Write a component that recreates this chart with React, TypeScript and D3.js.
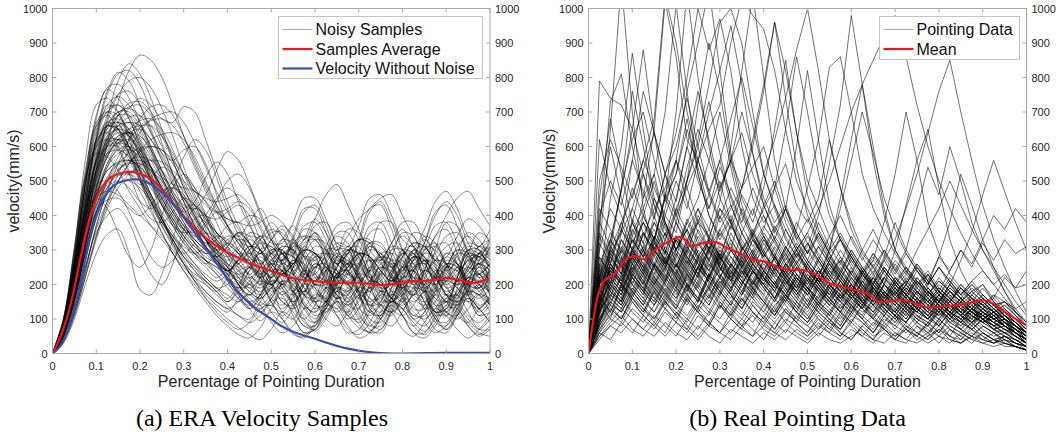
import React from "react";
import * as d3 from "d3";

// ---------- shared sample grid (fraction of pointing duration) ----------
const sampleX = [
  0, 0.025, 0.05, 0.075, 0.1, 0.125, 0.15, 0.175, 0.2, 0.225, 0.25, 0.275, 0.3, 0.325, 0.35, 0.375, 0.4, 0.425, 0.45, 0.475,
  0.5, 0.525, 0.55, 0.575, 0.6, 0.625, 0.65, 0.675, 0.7, 0.725, 0.75, 0.775, 0.8, 0.825, 0.85, 0.875, 0.9, 0.925, 0.95, 0.975, 1,
];

// ---------- (a) ERA velocity samples ----------
const eraNoisySamples: number[][] = [
  [0,55,160,310,470,610,730,820,865,850,800,720,630,550,480,420,370,340,380,420,360,290,250,300,350,310,240,200,250,310,290,230,190,240,300,320,260,210,250,310,330],
  [0,60,180,350,530,680,790,840,810,740,650,560,480,420,370,330,290,260,300,340,280,210,180,230,290,260,200,150,190,250,280,220,170,210,270,250,190,160,210,260,240],
  [0,70,220,430,630,760,815,790,720,640,560,490,420,360,310,270,230,190,240,290,250,190,150,200,260,230,170,140,190,240,210,160,130,180,240,220,170,140,190,230,200],
  [0,85,260,500,690,765,740,680,610,540,480,430,400,370,330,280,240,280,330,300,240,200,250,310,280,220,180,230,290,270,210,170,220,280,260,200,170,220,270,250,210],
  [0,75,230,440,620,720,745,720,670,600,530,470,420,370,330,300,320,350,300,250,220,270,320,290,230,200,250,310,280,220,190,240,300,290,230,200,250,300,270,220,240],
  [0,55,170,330,490,600,670,710,740,720,680,670,715,700,620,530,440,370,320,290,330,360,300,240,210,260,310,280,220,180,230,290,270,210,180,230,280,260,200,190,240],
  [0,60,180,340,480,570,620,640,630,590,530,470,430,420,460,530,585,560,490,410,340,290,260,310,350,300,240,210,260,310,280,220,190,240,290,310,260,210,240,290,300],
  [0,65,200,380,530,620,660,670,640,580,510,450,410,440,510,555,520,440,370,320,290,330,370,330,390,460,490,430,360,300,270,320,360,310,260,290,340,350,300,270,310],
  [0,70,210,400,550,630,650,630,580,520,460,410,370,340,370,410,370,320,290,330,380,340,290,330,390,350,300,340,390,420,450,460,400,340,300,340,400,450,470,420,370],
  [0,30,100,200,290,345,360,290,185,170,230,330,420,430,380,300,230,170,130,160,210,190,140,100,140,190,170,120,90,130,180,160,110,80,120,170,150,110,90,130,160],
  [0,40,130,250,350,400,420,380,300,230,200,260,360,420,400,330,260,200,150,120,160,210,180,130,90,130,180,160,110,80,120,170,150,100,80,120,160,140,100,70,100],
  [0,50,150,290,410,480,500,480,440,420,450,480,460,400,330,270,220,170,130,95,130,180,150,100,65,100,150,130,85,60,100,150,130,80,55,90,140,120,80,55,80],
  [0,60,180,340,460,530,550,520,470,410,350,290,240,190,150,110,80,55,45,75,120,100,60,45,80,130,110,70,55,90,140,120,70,50,90,130,110,70,45,70,110],
  [0,70,210,390,530,600,610,570,500,420,350,290,240,200,160,130,100,75,55,40,70,120,100,60,70,120,150,110,75,65,100,150,130,90,65,100,150,130,90,60,50],
  [0,80,230,420,560,620,620,580,510,440,370,310,260,210,170,140,120,160,200,170,120,90,130,180,150,100,80,120,170,150,100,80,120,170,160,110,70,110,160,130,90],
  [0,90,260,460,600,660,650,600,530,460,400,350,300,260,220,190,160,200,250,220,170,140,180,230,200,150,130,170,220,190,140,120,160,210,200,150,120,160,210,180,140],
  [0,70,200,370,510,590,620,610,570,510,450,390,340,300,270,250,220,200,240,280,250,200,170,210,260,240,190,160,200,250,230,180,150,190,240,220,170,150,190,240,210],
  [0,60,180,340,480,570,610,620,590,540,480,420,370,330,300,280,310,350,320,260,220,260,310,300,240,210,250,300,290,230,200,240,290,280,220,200,240,290,280,230,260],
  [0,90,280,520,670,700,670,600,520,450,390,340,290,250,210,180,150,190,260,270,200,120,100,170,250,260,190,110,100,170,260,260,180,110,110,180,260,250,170,110,120],
  [0,50,150,300,440,540,600,640,650,620,570,510,450,400,350,320,300,330,320,260,200,190,250,320,330,270,200,180,240,320,320,260,190,180,240,310,320,260,200,190,250],
  [0,40,120,240,370,470,550,620,680,715,720,690,630,560,490,430,390,380,400,390,330,260,230,290,370,380,310,230,220,290,380,380,300,220,220,300,380,370,290,230,260],
  [0,80,240,420,550,600,600,560,500,440,380,330,280,240,200,170,140,110,100,150,190,170,110,60,70,130,190,180,120,70,60,120,190,190,130,70,60,110,180,170,120],
  [0,60,180,340,460,530,555,560,540,510,480,450,420,380,330,280,240,200,170,220,290,300,230,140,120,190,280,300,220,130,110,190,290,290,200,120,130,220,300,260,180],
  [0,50,160,310,450,550,610,650,675,680,650,590,520,450,390,340,300,260,230,200,230,290,300,250,180,160,220,290,290,220,150,160,230,300,280,200,150,170,250,290,250],
  [0,85,260,490,680,770,780,740,670,590,510,440,380,340,320,330,370,380,320,240,180,200,280,360,350,270,180,170,250,350,360,280,190,170,240,340,360,290,200,170,230],
  [0,45,140,270,390,460,500,525,530,500,470,500,570,620,590,510,420,340,270,220,200,240,260,210,150,120,160,240,260,200,130,110,170,250,260,190,120,110,180,250,230],
  [0,70,210,400,560,660,700,710,690,640,580,520,470,430,400,390,410,430,400,330,270,270,340,420,420,350,270,260,330,420,430,360,280,260,320,410,430,370,290,260,310],
  [0,95,290,500,600,620,590,520,440,390,380,410,450,430,360,280,210,160,130,170,240,240,170,90,80,140,230,240,170,90,70,130,220,240,180,100,70,120,210,230,170],
  [0,45,130,250,360,440,500,550,585,600,590,550,490,430,370,320,280,240,200,180,220,300,330,280,190,150,200,290,330,280,190,150,190,280,330,290,200,150,180,270,320],
  [0,80,250,460,610,660,650,600,530,460,390,320,260,210,160,120,90,70,90,130,140,100,55,50,90,140,130,80,45,60,110,140,110,60,45,80,130,130,80,50,70],
  [0,55,170,320,430,500,535,550,550,530,500,460,410,360,310,270,240,260,290,270,210,150,140,200,280,290,220,140,130,200,290,290,210,130,130,210,290,280,200,140,160],
  [0,60,190,370,540,670,750,790,800,770,710,630,540,460,400,350,320,290,270,300,350,350,290,220,210,270,350,350,280,210,210,280,350,340,270,210,220,290,350,330,270],
  [0,70,210,370,450,470,460,430,400,370,340,300,260,230,210,190,200,240,250,210,150,110,140,210,250,220,150,100,130,200,250,230,160,100,120,190,250,240,170,110,140],
  [0,35,110,220,340,440,520,590,640,680,695,700,670,610,540,470,410,360,320,290,330,370,340,260,200,210,280,360,350,270,190,200,280,350,340,260,190,210,290,350,330],
  [0,65,200,380,520,600,630,640,610,560,500,440,380,320,270,230,190,160,140,170,210,200,140,80,80,140,210,200,140,80,80,140,200,210,150,90,80,130,200,200,140],
  [0,75,220,400,530,580,590,570,530,480,430,390,360,350,380,440,500,520,480,400,330,290,310,370,380,330,260,240,290,370,380,320,250,240,300,370,380,320,250,250,310],
  [0,100,300,560,720,740,700,620,530,450,390,340,300,260,230,210,230,270,270,220,150,120,170,250,290,240,160,110,160,240,290,250,170,110,140,220,290,260,180,120,150],
  [0,55,170,330,470,570,620,650,660,660,630,580,520,470,430,410,420,440,420,360,290,270,330,410,430,370,290,260,320,410,440,380,300,270,320,400,440,400,320,280,330],
  [0,55,160,300,410,470,495,500,480,440,390,330,270,220,180,150,130,150,170,140,90,60,80,130,170,160,110,60,70,120,170,160,110,60,60,110,160,170,120,70,70],
  [0,65,200,390,570,690,750,760,720,650,580,560,590,600,550,460,370,300,260,230,260,310,300,230,160,150,210,300,310,240,160,150,210,300,310,250,170,150,200,290,310],
  [0,100,310,510,580,570,530,470,420,370,330,290,250,220,200,180,220,270,220,150,140,210,270,220,140,140,220,270,210,140,150,230,270,200,130,150,230,260,190,130,170],
  [0,60,180,350,510,610,660,685,690,660,600,520,440,370,310,260,220,180,150,170,230,240,190,110,90,150,230,240,180,100,90,150,230,240,180,100,90,150,220,230,170],
  [0,35,110,220,330,420,480,520,545,560,555,530,500,470,450,440,450,460,430,370,320,320,380,450,450,390,320,310,370,450,460,400,330,310,360,440,470,420,340,310,360],
  [0,70,220,430,620,750,810,820,780,700,610,520,440,370,310,260,220,190,200,250,290,260,180,130,160,240,290,260,180,120,150,230,290,260,190,120,140,220,290,270,200],
  [0,60,180,320,410,445,450,420,400,430,470,480,450,400,340,290,250,230,250,300,310,260,190,180,240,300,300,240,180,180,240,300,300,240,180,190,250,300,290,230,200],
  [0,90,270,490,620,640,600,530,490,510,540,520,460,390,330,290,260,240,220,250,300,300,240,170,160,220,300,300,240,160,160,220,300,310,240,160,150,220,300,300,230],
  [0,60,190,360,520,630,690,715,720,690,630,560,480,410,350,300,250,200,170,200,270,290,230,140,100,160,260,290,230,130,100,170,260,290,220,120,110,190,280,280,200],
  [0,75,230,420,560,610,620,600,550,490,430,380,340,310,290,300,330,340,300,230,200,240,320,340,290,210,200,260,330,330,270,200,210,270,340,320,250,200,220,290,330],
  [0,40,120,230,340,430,500,550,590,620,635,640,620,570,500,430,370,320,280,250,270,310,300,250,200,200,250,300,290,230,180,190,250,300,280,220,180,200,260,290,260],
  [0,50,150,290,400,480,530,555,560,540,510,490,480,470,440,380,310,250,210,190,220,260,240,190,150,170,230,260,220,160,140,190,250,250,190,140,150,210,250,220,170],
  [0,80,240,420,490,500,470,410,340,280,250,270,330,390,400,350,280,220,180,160,190,230,220,170,130,150,200,230,190,140,120,160,220,220,170,120,130,180,220,200,150],
  [0,45,140,270,400,500,570,620,655,675,680,660,610,540,470,410,360,330,310,330,360,340,280,230,230,290,340,320,260,220,240,300,340,310,250,220,250,310,340,300,250],
  [0,90,260,400,450,420,350,280,250,300,400,480,520,480,400,320,250,200,160,140,170,210,200,150,110,130,180,210,170,120,110,160,210,200,150,110,120,170,210,190,140],
  [0,50,150,290,410,500,550,580,595,600,590,560,520,480,440,410,390,380,370,380,400,380,330,280,270,310,370,380,330,280,270,320,380,380,320,270,280,340,390,370,320],
  [0,90,270,490,650,710,720,680,600,500,400,320,260,210,180,150,130,110,90,110,150,160,120,80,70,110,160,150,100,60,70,120,160,140,90,60,80,130,160,130,90],
  [0,55,170,320,430,490,515,520,500,460,410,370,350,360,400,450,480,450,380,300,240,200,230,280,270,210,160,180,250,270,220,160,170,240,270,230,170,170,230,260,220],
  [0,80,240,440,590,660,670,640,580,510,440,380,330,290,260,290,320,300,260,220,250,290,280,240,200,230,270,260,220,190,220,260,250,210,190,220,260,250,210,190,220],
  [0,50,160,310,450,540,580,590,570,530,480,430,390,350,320,290,260,230,200,230,260,240,200,170,200,240,230,190,160,190,230,220,180,150,180,220,210,170,150,180,200],
  [0,90,270,480,620,670,650,590,510,440,380,330,290,320,350,330,290,250,280,320,310,270,240,270,310,300,260,230,260,300,290,250,220,250,290,280,240,210,240,280,290],
  [0,60,190,360,500,580,610,600,560,500,440,380,330,290,260,230,200,180,210,240,220,180,150,180,220,210,170,140,170,210,200,160,140,170,210,190,150,140,170,200,180],
  [0,70,220,410,560,640,660,630,570,500,430,370,320,280,250,220,250,290,280,240,200,170,200,240,230,190,160,190,230,220,180,150,180,220,210,170,150,180,220,210,190],
  [0,80,250,460,620,700,720,690,620,540,460,400,350,310,280,260,240,270,310,300,260,230,260,300,290,250,220,250,290,280,240,210,240,280,270,230,210,240,290,280,250],
  [0,60,170,330,480,580,630,640,620,570,510,450,400,360,330,300,270,300,340,330,290,260,290,330,340,300,260,290,330,320,280,250,280,320,310,270,240,270,310,300,270],
  [0,100,290,510,660,720,700,630,540,460,390,330,280,240,210,180,150,180,220,200,160,130,160,200,190,150,120,150,190,180,140,120,150,190,180,140,110,140,180,170,140],
  [0,70,210,400,560,650,690,690,650,590,520,460,400,350,310,280,310,350,340,300,260,230,260,300,290,250,220,250,290,280,240,210,250,290,280,240,220,250,300,290,260],
  [0,60,180,350,500,600,650,670,660,620,560,500,440,390,350,320,290,260,230,260,300,290,250,220,250,290,280,240,210,240,280,270,230,200,230,270,260,220,200,230,260],
  [0,90,270,490,640,700,690,640,570,500,430,370,320,290,270,250,230,210,190,220,260,250,210,180,210,250,240,200,180,210,250,240,200,170,200,240,230,190,170,200,230],
  [0,50,150,290,420,510,550,560,540,500,450,400,360,330,300,270,240,210,180,160,190,230,210,170,150,180,220,200,160,140,170,210,200,160,140,170,210,190,150,130,160],
  [0,60,180,350,510,620,690,725,730,700,640,570,500,440,390,350,310,280,300,340,330,290,260,290,330,320,280,250,280,320,310,270,240,270,310,300,260,240,270,310,300],
  [0,80,240,450,600,670,680,650,590,520,450,390,340,300,270,240,210,180,150,130,160,200,180,140,120,150,190,170,130,110,140,180,160,120,100,130,170,150,110,90,120],
  [0,70,200,380,530,610,640,630,590,530,470,410,360,320,290,260,240,220,250,290,280,240,210,240,280,270,230,200,230,270,260,220,200,230,270,260,220,200,230,260,240],
  [0,40,120,240,370,470,530,560,570,560,530,490,450,410,380,350,320,290,260,230,200,230,270,260,220,190,220,260,250,210,180,210,250,240,200,180,210,250,240,200,180],
  [0,90,260,470,610,660,640,580,510,440,380,340,310,290,310,340,330,290,250,220,250,290,280,240,210,240,280,270,230,200,230,270,260,220,200,230,270,260,220,210,240],
  [0,70,220,410,570,660,700,700,660,600,530,460,400,350,310,280,250,220,190,170,200,240,230,190,160,190,230,220,180,150,180,220,210,170,150,180,220,210,180,160,190],
  [0,80,230,430,580,650,670,650,600,540,480,420,370,330,300,270,240,270,310,300,260,230,260,300,290,250,220,250,290,280,240,210,240,280,270,230,200,230,270,280,250],
  [0,60,170,320,460,550,590,600,580,540,490,440,400,360,330,300,280,310,350,340,300,270,300,340,330,290,260,290,330,320,280,250,280,320,310,270,250,280,320,310,290],
  [0,100,300,530,660,690,650,580,500,430,370,320,280,250,220,190,170,150,180,210,190,150,130,160,200,180,140,120,150,190,170,130,110,140,180,160,120,100,130,170,160],
  [0,70,210,390,540,620,650,640,600,540,470,410,360,320,290,310,340,330,290,260,290,330,320,280,250,280,320,310,270,240,270,310,300,260,240,270,310,320,280,260,290],
];

const eraAvgX = [0, 0.017, 0.04, 0.063, 0.086, 0.109, 0.131, 0.17, 0.2, 0.238, 0.276, 0.314, 0.352, 0.39, 0.42, 0.451, 0.493, 0.55, 0.6, 0.65, 0.703, 0.756, 0.81, 0.855, 0.909, 0.962, 1];
const eraAvgY = [0, 45, 135, 270, 396, 473, 508, 526, 521, 492, 435, 377, 333, 300, 280, 261, 242, 218, 210, 205, 205, 198, 208, 211, 218, 205, 218];

const eraCleanX = [0, 0.02, 0.04, 0.063, 0.086, 0.109, 0.139, 0.185, 0.215, 0.253, 0.299, 0.337, 0.375, 0.42, 0.459, 0.493, 0.52, 0.55, 0.596, 0.672, 0.749, 0.8, 0.9, 1];
const eraCleanY = [0, 25, 90, 200, 335, 430, 486, 505, 497, 464, 396, 328, 261, 184, 135, 106, 82, 63, 44, 15, 1, 0, 2, 2];

// ---------- (b) real pointing data ----------
const pointingSamples: number[][] = [
  [0,790,740,720,650,520,400,300,250,320,280,200,240,310,260,190,230,280,220,170,210,180,140,170,200,150,120,150,180,130,100,140,170,120,90,130,110,80,100,60,40],
  [0,300,650,1080,700,420,300,350,260,210,280,330,250,190,230,290,220,160,200,250,190,150,180,130,160,200,140,110,150,120,90,130,160,110,80,120,100,70,90,60,30],
  [0,200,450,600,870,650,450,380,300,360,420,330,270,320,250,200,260,220,180,230,190,150,200,170,130,160,190,140,110,150,120,100,130,90,110,140,100,80,100,70,50],
  [0,350,730,810,600,450,520,380,300,250,310,360,280,220,270,200,240,290,210,170,220,180,150,190,160,130,170,140,110,150,120,100,130,160,120,90,110,80,60,70,40],
  [0,150,250,200,300,380,330,450,700,1050,800,600,450,380,300,340,270,220,280,230,190,240,200,160,190,150,180,140,120,160,130,100,140,110,90,120,100,80,60,50,30],
  [0,180,280,230,330,280,400,520,640,800,1000,880,970,820,600,450,380,430,340,280,320,260,220,270,230,190,220,180,150,190,160,130,170,140,110,140,120,100,110,80,60],
  [0,120,220,180,260,310,250,330,400,480,560,650,720,900,1030,980,940,820,650,500,420,350,290,330,260,210,250,200,170,210,180,150,180,140,120,150,130,110,90,80,60],
  [0,250,180,300,240,350,290,400,350,500,620,780,960,1000,900,700,520,430,360,300,350,280,230,270,210,180,220,170,140,180,150,120,160,130,100,130,110,90,100,70,50],
  [0,220,300,250,200,280,330,260,300,360,290,250,320,280,230,290,340,270,220,260,310,400,550,720,980,780,560,400,300,250,200,230,180,150,190,160,130,150,110,80,60],
  [0,100,180,150,220,180,260,210,290,240,200,270,230,190,250,300,360,480,650,860,700,520,400,330,280,230,270,380,520,700,560,380,290,230,190,160,140,120,100,80,50],
  [0,140,260,200,170,240,200,160,230,190,270,320,260,220,280,340,400,330,280,360,480,620,830,860,700,520,420,350,290,240,200,240,190,160,200,170,140,160,120,90,70],
  [0,160,120,200,160,230,190,150,220,180,250,210,170,240,200,260,220,190,250,300,350,420,500,600,700,780,850,920,980,860,720,600,500,420,350,290,240,200,160,120,90],
  [0,120,200,160,230,190,150,210,170,240,200,160,220,180,140,200,250,210,170,220,180,140,190,150,120,170,220,270,330,420,520,640,760,850,700,560,430,330,250,180,120],
  [0,90,160,130,190,150,220,180,140,200,160,230,190,150,210,170,240,200,160,220,180,140,200,160,130,190,150,120,180,210,260,220,180,240,300,260,330,400,360,420,380],
  [0,200,260,210,290,240,320,270,230,300,260,220,290,250,210,270,230,190,250,210,170,220,180,150,200,160,130,180,140,110,160,130,100,140,110,90,120,90,70,50,30],
  [0,60,120,90,150,110,80,130,100,160,120,90,150,110,80,140,100,70,120,90,60,110,80,50,100,70,40,90,60,40,80,60,30,70,50,30,60,40,30,20,10],
  [0,40,80,60,100,70,50,90,60,40,80,50,30,70,50,30,60,40,70,50,30,60,40,30,50,70,40,30,60,40,30,50,70,40,30,50,40,30,40,20,10],
  [0,80,140,100,170,130,90,150,110,70,130,90,60,120,80,50,110,70,130,90,60,100,70,50,90,60,40,80,50,70,40,60,90,50,40,70,50,30,50,30,20],
  [0,150,200,170,240,200,280,230,190,260,220,300,250,210,280,240,200,260,220,180,240,200,160,210,170,140,190,150,120,170,140,110,150,120,100,130,100,80,90,60,40],
  [0,250,350,300,420,350,280,380,320,260,340,290,400,330,270,350,290,240,310,260,210,280,230,190,250,200,160,220,180,140,190,150,120,170,130,100,140,110,80,60,40],
  [0,120,170,140,200,160,120,190,150,230,180,140,210,170,130,190,150,110,170,130,100,150,110,180,140,100,160,120,90,140,100,80,130,90,70,110,80,60,70,50,30],
  [0,300,420,360,480,400,330,450,380,310,400,340,280,370,310,260,330,280,230,300,250,200,270,220,180,240,190,150,210,170,130,180,140,110,150,120,90,110,80,60,40],
  [0,90,150,120,180,140,100,160,130,200,160,120,180,140,110,170,130,100,150,120,90,140,100,70,120,90,60,110,80,130,90,60,100,70,50,90,60,40,50,30,20],
  [0,180,240,300,260,350,300,250,330,280,230,310,260,350,290,240,320,270,220,290,240,200,260,210,170,230,190,150,200,160,130,180,140,110,150,120,100,120,90,70,50],
  [0,60,100,80,130,100,70,120,90,60,110,80,140,100,70,120,90,60,100,80,50,90,60,110,80,50,90,70,40,80,60,40,70,50,30,60,40,30,40,20,10],
  [0,400,500,430,560,470,390,520,440,600,500,420,540,460,380,480,400,330,420,350,290,380,310,260,340,280,230,300,250,200,260,210,170,220,180,150,190,150,120,100,80],
  [0,140,210,170,250,200,160,230,190,270,220,180,250,210,170,240,200,160,220,180,140,200,160,130,180,150,120,170,130,100,150,120,90,140,110,80,120,90,70,60,40],
  [0,220,160,280,220,170,260,210,330,270,220,300,250,200,270,220,180,250,200,160,230,190,150,210,170,130,190,150,120,170,130,100,150,120,90,130,100,70,80,50,30],
  [0,50,90,130,100,70,110,80,50,100,70,120,90,60,100,70,40,90,60,110,80,50,90,60,40,80,110,70,50,90,60,40,80,50,100,70,40,60,30,20,10],
  [0,500,620,540,450,560,480,400,500,420,560,470,390,480,410,340,430,360,300,380,320,270,340,280,230,300,250,200,260,210,170,230,180,150,200,160,130,170,130,100,70],
  [0,170,280,230,380,520,430,340,450,600,760,620,480,560,700,580,430,350,420,330,270,350,290,230,300,250,200,270,220,180,240,190,150,200,160,130,170,140,110,90,60],
  [0,130,300,480,620,700,560,440,520,650,540,420,500,380,300,360,290,240,310,260,210,270,220,180,240,190,150,200,160,130,180,140,110,150,120,90,130,100,80,60,30],
  [0,80,200,350,560,760,640,520,600,740,600,470,560,430,350,420,340,280,360,300,240,310,260,210,280,230,180,240,200,160,210,170,140,180,150,120,160,130,100,80,50],
  [0,260,200,330,270,400,330,460,560,480,380,460,560,680,800,660,520,420,330,280,340,290,240,300,250,200,260,210,170,220,180,150,190,160,130,160,130,110,120,90,60],
  [0,110,240,200,290,380,320,460,400,540,650,560,470,560,640,520,430,500,400,330,390,320,270,340,280,230,290,240,200,250,210,170,220,180,150,190,160,140,150,120,90],
  [0,190,140,230,180,260,210,170,240,190,150,220,180,260,210,170,230,190,150,210,170,130,190,150,120,180,140,110,160,200,250,210,280,240,300,250,320,270,330,290,310],
  [0,70,130,100,160,120,190,150,110,170,130,200,160,120,180,140,100,160,120,90,140,100,70,120,90,140,100,70,110,80,50,90,60,110,70,50,80,60,40,30,20],
  [0,160,220,180,250,210,170,240,200,280,230,190,260,220,180,240,200,160,220,180,140,200,160,120,180,140,200,280,380,300,420,540,460,600,500,380,300,240,180,130,90],
  [0,100,150,120,180,140,210,170,130,190,150,230,180,140,200,160,120,180,140,100,160,120,90,140,110,160,120,90,130,100,150,200,280,380,520,430,330,250,180,120,80],
  [0,230,310,260,360,300,250,330,280,380,320,270,350,300,250,330,280,230,300,250,200,270,220,180,240,200,160,220,180,140,200,160,130,180,140,110,150,120,90,70,50],
  [0,150,100,200,150,110,180,130,90,160,120,80,140,100,160,120,80,130,90,150,110,70,120,80,140,100,60,110,70,120,80,50,100,70,40,80,50,30,50,30,10],
  [0,280,230,330,280,230,310,260,210,290,240,330,280,230,300,250,210,280,230,190,260,220,300,420,560,700,580,450,360,290,240,200,250,200,160,200,160,130,150,110,80],
  [0,200,300,380,460,560,680,1040,900,700,560,460,380,430,350,290,350,300,250,310,260,210,270,230,190,240,200,160,210,170,140,180,150,120,160,130,100,120,90,70,40],
  [0,130,260,360,300,450,650,1020,860,620,560,700,820,950,780,580,450,380,430,350,290,340,280,230,290,240,200,250,210,170,220,180,150,190,160,130,160,130,100,80,50],
  [0,180,240,200,280,230,320,270,380,320,420,360,480,560,480,620,780,960,820,640,500,420,340,400,330,270,330,280,230,290,240,200,250,210,170,200,170,140,150,120,90],
  [0,90,170,140,220,180,260,220,300,260,360,300,420,360,460,400,520,620,740,880,1000,820,620,480,380,300,360,290,240,300,250,200,250,210,170,210,170,140,120,100,70],
  [0,320,260,380,300,250,340,290,420,350,280,330,270,380,310,260,300,240,290,230,200,250,190,230,180,150,200,160,190,140,120,160,130,100,140,110,90,110,80,60,40],
  [0,110,190,150,240,300,220,180,260,200,160,230,290,210,170,240,190,150,210,160,130,190,150,120,170,130,100,150,110,90,130,100,80,120,90,70,100,70,50,40,20],
  [0,420,360,290,380,320,450,370,300,390,330,270,360,300,420,340,280,330,260,300,240,210,270,220,180,240,190,160,210,170,140,190,150,120,160,130,110,130,100,80,60],
  [0,70,110,160,120,90,140,180,130,100,150,190,140,110,160,120,90,140,170,120,90,130,100,70,120,150,100,80,110,70,50,90,120,80,60,90,60,40,50,30,20],
  [0,260,330,280,230,310,380,300,250,330,270,220,300,250,350,290,240,310,260,210,270,230,190,250,200,170,220,180,150,200,160,130,170,140,110,150,120,100,110,80,50],
  [0,160,230,190,270,220,180,250,200,160,230,190,270,220,180,240,200,160,230,190,150,210,170,140,190,150,120,170,140,110,150,120,100,140,110,80,110,90,70,50,30],
  [0,210,290,350,420,530,640,520,400,330,380,300,260,330,280,230,290,250,210,270,220,180,240,200,160,210,170,140,180,150,120,160,130,100,130,110,90,110,80,60,40],
  [0,90,140,120,170,210,160,130,190,150,120,170,220,170,130,180,150,110,160,200,150,120,160,120,90,140,180,130,100,140,110,80,120,90,70,100,70,50,60,40,20],
  [0,180,250,210,290,240,200,270,230,310,260,220,290,250,300,350,420,480,550,430,380,450,620,480,360,290,250,300,240,200,250,210,170,210,170,140,170,140,110,90,60],
  [0,350,290,230,300,250,200,270,230,190,250,210,280,240,200,260,220,180,240,200,170,220,190,160,200,170,140,180,150,120,160,130,110,140,120,90,120,100,80,60,40],
  [0,150,320,480,760,600,430,360,300,380,450,560,700,540,400,330,280,340,290,240,300,250,210,260,220,180,230,190,160,200,170,140,180,150,120,150,130,100,120,90,60],
  [0,50,80,110,70,50,90,60,120,80,50,90,60,40,80,110,70,50,90,60,40,70,100,60,40,80,50,70,40,30,60,80,50,30,60,40,30,40,20,20,10],
  [0,230,180,140,210,170,250,200,160,220,180,140,200,160,240,190,150,210,170,130,190,150,120,170,140,110,160,130,100,140,110,90,130,100,80,110,90,70,60,40,20],
  [0,190,260,220,300,260,340,290,380,500,720,900,760,560,430,350,300,370,310,260,320,270,220,280,230,190,240,200,170,210,180,150,190,160,130,160,140,110,130,100,70],
  [0,140,210,170,260,210,300,250,340,290,390,330,440,600,820,1040,800,560,420,340,290,350,290,240,300,250,200,250,210,170,220,180,150,190,160,130,160,130,110,90,60],
  [0,240,330,470,650,880,640,450,520,680,520,400,340,400,330,280,340,290,240,290,250,210,260,220,180,230,190,160,200,170,140,180,150,120,150,130,100,120,90,70,50],
  [0,620,480,400,320,380,300,260,330,280,230,290,250,210,270,230,190,250,210,180,230,190,160,210,170,140,190,150,130,170,140,110,150,120,100,130,100,80,90,60,40],
  [0,130,170,220,180,140,200,250,190,150,210,170,130,190,240,180,140,200,160,120,180,140,110,160,200,150,110,150,120,90,140,110,80,120,90,70,100,80,60,40,30],
  [0,200,270,230,310,260,220,290,250,330,280,240,300,260,220,280,240,200,260,220,190,240,210,180,230,200,170,220,190,160,210,180,150,200,170,210,240,200,230,190,200],
  [0,80,130,100,160,130,100,150,120,90,140,110,170,130,100,150,120,90,130,100,80,120,90,70,110,90,60,100,80,60,90,70,50,80,60,40,60,40,30,20,10],
  [0,170,240,200,280,230,190,260,220,180,250,210,170,230,190,160,220,180,150,210,180,220,300,450,620,780,600,420,300,240,190,230,180,150,190,150,120,140,110,80,50],
  [0,120,180,150,220,180,140,200,160,230,190,150,210,170,130,190,150,120,170,140,110,160,130,100,150,120,140,200,300,430,560,650,480,330,240,180,200,150,120,90,60],
  [0,140,200,160,230,190,150,220,180,140,200,160,230,190,150,210,170,130,190,150,120,170,140,110,160,130,100,140,110,90,130,110,150,200,270,350,460,560,470,380,300],
  [0,380,310,250,330,280,230,300,260,220,280,240,200,260,220,190,240,200,170,220,190,160,200,170,140,190,160,130,170,140,120,150,130,100,130,110,90,100,80,60,40],
  [0,450,680,520,380,300,360,290,240,310,260,220,280,240,200,260,220,180,240,200,170,220,180,150,200,170,140,180,150,120,160,130,110,140,110,90,110,90,70,50,30],
  [0,160,230,190,280,340,420,480,560,440,350,300,360,420,480,540,600,480,380,310,260,310,260,220,270,230,190,240,200,170,210,180,150,180,150,120,150,120,100,80,50],
  [0,120,190,150,230,190,260,220,180,250,210,280,240,300,260,330,290,360,420,600,820,620,430,330,270,220,270,230,190,230,190,160,200,170,140,170,140,120,130,100,70],
  [0,200,280,240,330,280,380,330,420,500,600,730,580,450,370,310,370,320,270,320,270,230,280,240,200,250,210,170,220,180,150,190,160,130,160,130,110,130,100,80,60],
  [0,100,160,130,190,150,120,170,140,110,160,130,100,150,120,90,140,110,160,120,90,140,110,80,130,100,70,120,90,130,100,80,120,150,120,170,200,160,220,190,240],
  [0,150,220,180,260,220,300,260,340,300,380,340,420,380,480,600,760,960,740,540,400,330,270,330,280,230,280,240,200,240,200,170,210,180,150,180,150,120,140,110,80],
  [0,220,300,260,350,420,520,700,1010,760,520,400,330,390,320,270,330,280,230,280,240,200,250,210,170,220,180,150,190,160,130,170,140,110,140,120,100,120,90,70,50],
  [0,170,250,210,300,250,210,280,240,200,270,230,190,250,210,180,240,200,170,230,190,160,220,180,150,210,180,220,270,230,300,360,420,500,430,360,300,250,200,150,110],
  [0,60,40,90,60,110,80,50,90,70,40,80,60,100,70,50,80,60,40,70,50,80,60,40,70,50,30,60,40,70,50,30,50,40,30,50,30,20,30,20,10],
  [0,180,260,220,300,350,300,420,560,760,900,1060,820,580,450,380,480,650,850,640,460,360,300,350,290,240,290,250,210,250,210,170,210,180,150,180,150,120,140,110,80],
  [0,210,290,250,340,290,240,310,270,230,300,260,220,280,240,210,270,230,200,250,220,190,240,210,180,230,200,170,220,190,160,210,180,150,190,160,140,170,150,130,150],
  [0,280,220,310,260,200,290,240,340,280,230,310,260,210,290,240,200,280,230,190,250,210,170,230,190,150,210,170,140,190,150,120,170,130,110,150,120,90,100,70,40],
  [0,130,210,260,200,160,230,280,220,170,250,300,230,180,260,210,170,240,190,150,220,180,140,200,160,130,180,140,110,160,130,100,140,110,90,120,90,70,80,50,30],
  [0,220,330,270,390,320,260,350,290,240,320,270,220,300,250,200,270,230,190,250,210,170,230,190,160,210,170,140,190,150,120,170,140,110,150,120,100,120,90,60,40],
  [0,100,150,200,160,120,180,140,210,170,130,190,150,110,170,210,160,120,180,140,100,150,120,90,140,110,80,130,100,70,110,90,60,100,70,50,80,60,40,30,20],
  [0,340,280,360,300,240,330,270,220,300,250,340,280,230,310,260,210,280,230,190,260,210,170,240,200,160,220,180,150,200,160,130,170,140,110,140,110,90,110,80,50],
  [0,170,120,190,240,180,140,210,260,200,150,220,180,140,200,250,190,150,210,170,130,190,150,120,170,140,110,160,120,90,140,110,80,120,100,70,100,70,50,40,20],
  [0,380,600,450,340,400,500,380,300,360,290,240,310,260,220,280,240,200,260,220,180,240,200,160,220,180,150,200,160,130,180,140,120,150,120,100,130,100,80,60,40],
  [0,240,190,270,220,300,250,200,280,230,190,260,220,180,250,300,240,200,260,220,180,240,200,170,220,180,150,200,170,140,180,150,120,160,130,100,130,100,80,60,30],
];

const pointingMeanX = [0, 0.011, 0.023, 0.038, 0.061, 0.084, 0.103, 0.129, 0.152, 0.182, 0.209, 0.22, 0.236, 0.258, 0.293, 0.319, 0.342, 0.373, 0.403, 0.433, 0.464, 0.49, 0.529, 0.551, 0.582, 0.608, 0.635, 0.665, 0.71, 0.741, 0.772, 0.81, 0.84, 0.871, 0.909, 0.939, 0.962, 1];
const pointingMeanY = [0, 97, 174, 213, 232, 271, 282, 273, 300, 324, 338, 330, 312, 319, 322, 304, 292, 273, 266, 250, 242, 242, 222, 203, 193, 184, 174, 150, 155, 147, 134, 137, 140, 147, 153, 131, 111, 82];

// ---------- axes ----------
const yTicks = [0, 100, 200, 300, 400, 500, 600, 700, 800, 900, 1000];
const xTicks = [0, 0.1, 0.2, 0.3, 0.4, 0.5, 0.6, 0.7, 0.8, 0.9, 1];
const xTickLabels = ["0", "0.1", "0.2", "0.3", "0.4", "0.5", "0.6", "0.7", "0.8", "0.9", "1"];

const SANS = "'Liberation Sans', Arial, Helvetica, sans-serif";
const SERIF = "'Liberation Serif', 'Times New Roman', serif";
const AXIS_COLOR = "#a9a9a9";
const TEXT_COLOR = "#262626";
const TOP = 8.5;
const BOTTOM = 353.5;

type Overlay = { xs: number[]; ys: number[]; color: string; label: string };

function Panel(props: {
  id: string;
  left: number;
  right: number;
  samples: number[][];
  smooth: boolean;
  sampleOpacity: number;
  sampleLabel: string;
  overlays: Overlay[];
  yLabel: string;
  caption: string;
  captionX: number;
  legend: { x: number; y: number; w: number; h: number };
}) {
  const { id, left, right, samples, smooth, sampleOpacity, overlays, yLabel, caption, captionX, legend, sampleLabel } = props;
  const x = d3.scaleLinear().domain([0, 1]).range([left, right]);
  const y = d3.scaleLinear().domain([0, 1000]).range([BOTTOM, TOP]);
  const sampleLine = d3
    .line<number>()
    .x((_, i) => x(sampleX[i]))
    .y((d) => y(d))
    .curve(smooth ? d3.curveCatmullRom.alpha(0.5) : d3.curveLinear);
  const overlayPath = (o: Overlay) =>
    d3
      .line<number>()
      .x((_, i) => x(o.xs[i]))
      .y((d) => y(d))
      .curve(d3.curveCatmullRom.alpha(0.5))(o.ys) || "";
  const midX = (left + right) / 2;
  const midY = (TOP + BOTTOM) / 2;
  const tickLen = 4;
  const legendItems = [
    { label: sampleLabel, color: "#b0b0b0", width: 1.2 },
    ...overlays.map((o) => ({ label: o.label, color: o.color, width: 2.2 })),
  ];
  return (
    <g>
      <defs>
        <clipPath id={`clip-${id}`}>
          <rect x={left} y={TOP} width={right - left} height={BOTTOM - TOP} />
        </clipPath>
      </defs>
      <g clipPath={`url(#clip-${id})`}>
        {samples.map((s, i) => (
          <path
            key={i}
            d={sampleLine(s) || ""}
            fill="none"
            stroke="#000"
            strokeOpacity={sampleOpacity}
            strokeWidth={0.9}
          />
        ))}
        {overlays.map((o, i) => (
          <path key={i} d={overlayPath(o)} fill="none" stroke={o.color} strokeWidth={2.2} strokeLinejoin="round" />
        ))}
      </g>
      <rect x={left} y={TOP} width={right - left} height={BOTTOM - TOP} fill="none" stroke={AXIS_COLOR} strokeWidth={1} />
      {xTicks.map((t, i) => (
        <g key={i}>
          <line x1={x(t)} x2={x(t)} y1={BOTTOM} y2={BOTTOM - tickLen} stroke={AXIS_COLOR} />
          <line x1={x(t)} x2={x(t)} y1={TOP} y2={TOP + tickLen} stroke={AXIS_COLOR} />
          <text x={x(t)} y={369.5} textAnchor="middle" fontFamily={SANS} fontSize={11} fill={TEXT_COLOR}>
            {xTickLabels[i]}
          </text>
        </g>
      ))}
      {yTicks.map((t, i) => (
        <g key={i}>
          <line x1={left} x2={left + tickLen} y1={y(t)} y2={y(t)} stroke={AXIS_COLOR} />
          <line x1={right} x2={right - tickLen} y1={y(t)} y2={y(t)} stroke={AXIS_COLOR} />
          <text x={left - 5} y={y(t) + 4} textAnchor="end" fontFamily={SANS} fontSize={11} fill={TEXT_COLOR}>
            {t}
          </text>
          <text x={right + 5} y={y(t) + 4} textAnchor="start" fontFamily={SANS} fontSize={11} fill={TEXT_COLOR}>
            {t}
          </text>
        </g>
      ))}
      <text x={midX} y={387} textAnchor="middle" fontFamily={SANS} fontSize={16} fill={TEXT_COLOR}>
        Percentage of Pointing Duration
      </text>
      <text
        transform={`translate(${left - 34},${midY}) rotate(-90)`}
        textAnchor="middle"
        fontFamily={SANS}
        fontSize={16}
        fill={TEXT_COLOR}
      >
        {yLabel}
      </text>
      <text x={captionX} y={426} textAnchor="middle" fontFamily={SERIF} fontSize={24} fill="#000">
        {caption}
      </text>
      <rect x={legend.x} y={legend.y} width={legend.w} height={legend.h} fill="#fff" stroke="#c4c4c4" strokeWidth={1} />
      {legendItems.map((it, i) => {
        const ly = legend.y + 13 + i * 19.5;
        return (
          <g key={i}>
            <line x1={legend.x + 4} x2={legend.x + 34} y1={ly} y2={ly} stroke={it.color} strokeWidth={it.width} />
            <text x={legend.x + 37} y={ly + 5.5} fontFamily={SANS} fontSize={16} fill="#111">
              {it.label}
            </text>
          </g>
        );
      })}
    </g>
  );
}

export default function App() {
  return (
    <svg width={1064} height={436} style={{ position: "absolute", left: 0, top: 0, background: "#fff" }}>
      <rect x={0} y={0} width={1064} height={436} fill="#fff" />
      <Panel
        id="a"
        left={52.5}
        right={490}
        samples={eraNoisySamples}
        smooth={true}
        sampleOpacity={0.5}
        sampleLabel="Noisy Samples"
        overlays={[
          { xs: eraAvgX, ys: eraAvgY, color: "#f0141e", label: "Samples Average" },
          { xs: eraCleanX, ys: eraCleanY, color: "#3a4db4", label: "Velocity Without Noise" },
        ]}
        yLabel="velocity(mm/s)"
        caption="(a) ERA Velocity Samples"
        captionX={262}
        legend={{ x: 278.5, y: 16.5, w: 204, h: 62 }}
      />
      <Panel
        id="b"
        left={588.5}
        right={1026.5}
        samples={pointingSamples}
        smooth={false}
        sampleOpacity={0.62}
        sampleLabel="Pointing Data"
        overlays={[{ xs: pointingMeanX, ys: pointingMeanY, color: "#f0141e", label: "Mean" }]}
        yLabel="Velocity(mm/s)"
        caption="(b) Real Pointing Data"
        captionX={797.5}
        legend={{ x: 879.5, y: 16.5, w: 140, h: 43 }}
      />
    </svg>
  );
}
